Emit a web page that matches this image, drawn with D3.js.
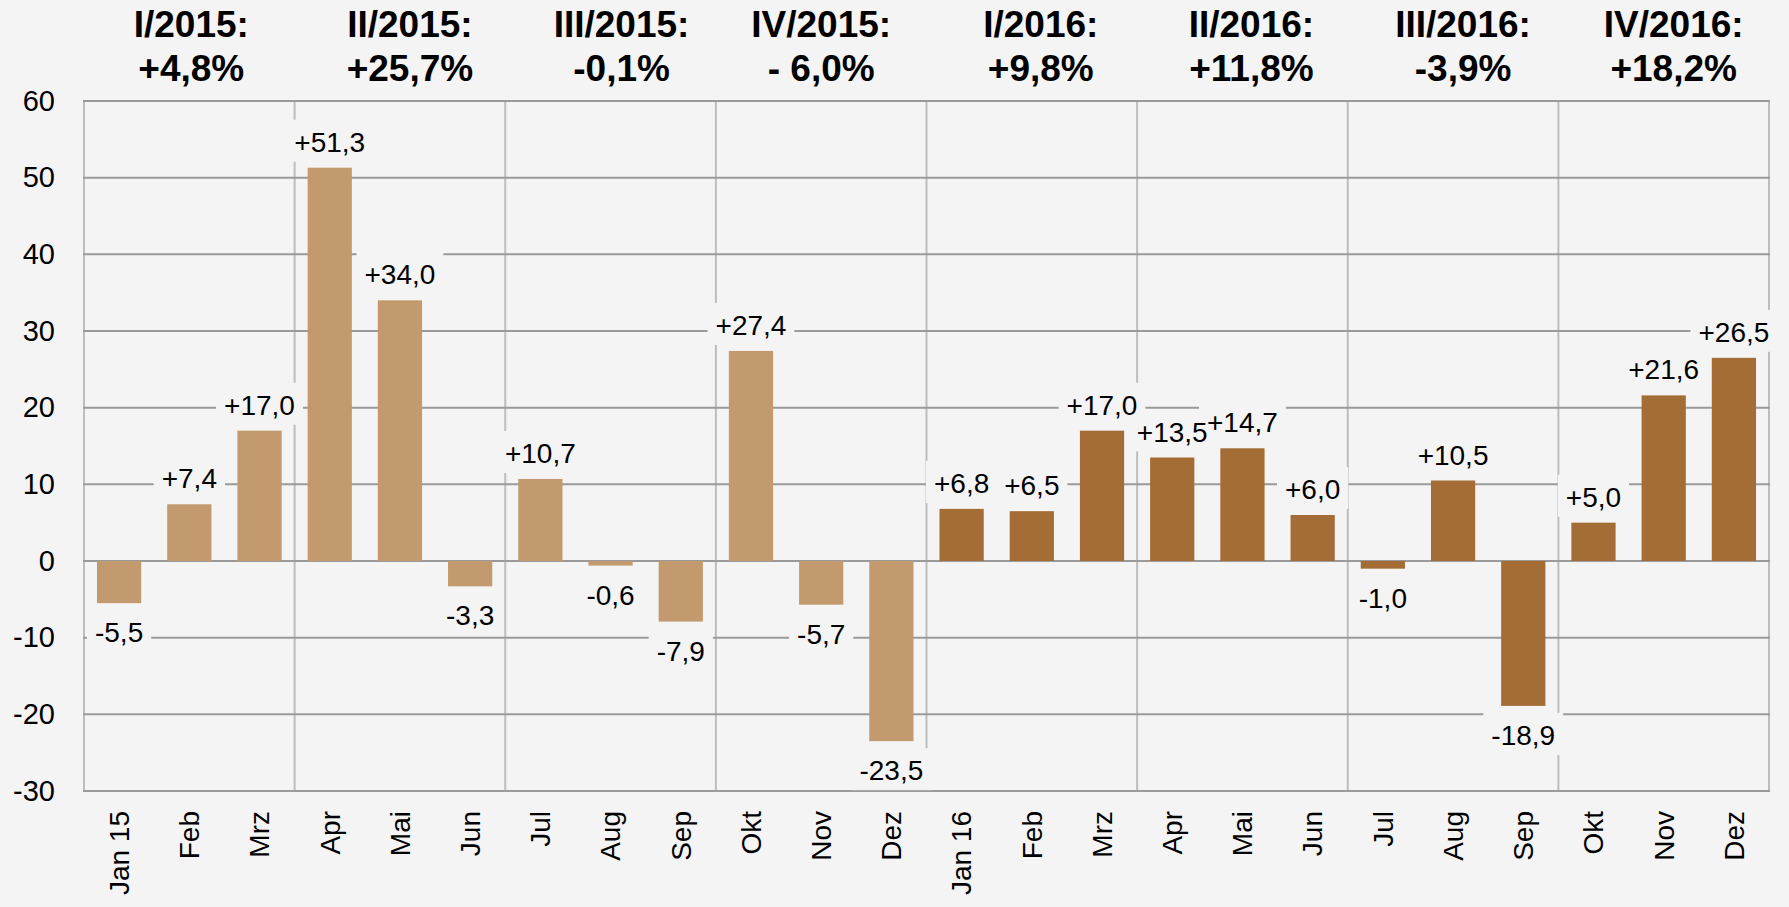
<!DOCTYPE html>
<html>
<head>
<meta charset="utf-8">
<script src="https://cdn.jsdelivr.net/npm/d3@7/dist/d3.min.js"></script>
<style>
  html, body { margin: 0; padding: 0; background: #f4f4f4; }
  svg { display: block; font-family: "Liberation Sans", Arial, sans-serif; }
</style>
</head>
<body>
<svg id="chart" width="1789" height="907"></svg>
<script>
const months = ["Jan 15","Feb","Mrz","Apr","Mai","Jun","Jul","Aug","Sep","Okt","Nov","Dez",
                "Jan 16","Feb","Mrz","Apr","Mai","Jun","Jul","Aug","Sep","Okt","Nov","Dez"];
const values2015 = [-5.5, 7.4, 17.0, 51.3, 34.0, -3.3, 10.7, -0.6, -7.9, 27.4, -5.7, -23.5];
const values2016 = [6.8, 6.5, 17.0, 13.5, 14.7, 6.0, -1.0, 10.5, -18.9, 5.0, 21.6, 26.5];
const quarterTitles = ["I/2015:","II/2015:","III/2015:","IV/2015:","I/2016:","II/2016:","III/2016:","IV/2016:"];
const quarterValues = ["+4,8%","+25,7%","-0,1%","- 6,0%","+9,8%","+11,8%","-3,9%","+18,2%"];
const yTicks = [-30,-20,-10,0,10,20,30,40,50,60];

const colors = { y2015: "#c39a6d", y2016: "#a36d35" };
// small horizontal nudges of the header text blocks (layout only)
const headerShift = [2, 10, 11, 0, 9, 9, 10, 10];

const data = months.map((m, i) => ({
  key: i,
  label: m,
  value: i < 12 ? values2015[i] : values2016[i - 12],
  year: i < 12 ? 2015 : 2016
}));

const W = 1789, H = 907;
const L = 84, R = 1769, T = 101, B = 791;
const svg = d3.select("#chart");
svg.append("rect").attr("width", W).attr("height", H).attr("fill", "#f4f4f4");

const x = d3.scaleBand().domain(data.map(d => d.key)).range([L, R]).paddingInner(0.37).paddingOuter(0.185);
const xq = d3.scaleBand().domain(d3.range(quarterTitles.length)).range([L, R]);
const y = d3.scaleLinear().domain([-30, 60]).range([B, T]);

const fmt = v => (v > 0 ? "+" : "") + v.toFixed(1).replace(".", ",");

// vertical quarter separators and borders
const vlines = d3.range(quarterTitles.length + 1).map(i => i < quarterTitles.length ? xq(i) : R);
svg.append("g").selectAll("line").data(vlines).join("line")
  .attr("x1", d => d).attr("x2", d => d).attr("y1", T).attr("y2", B)
  .attr("stroke", "#bdbdbd").attr("stroke-width", 2);

// horizontal grid lines
svg.append("g").selectAll("line").data(yTicks).join("line")
  .attr("x1", L - 1).attr("x2", R + 1).attr("y1", d => y(d)).attr("y2", d => y(d))
  .attr("stroke", "#9a9a9a").attr("stroke-width", 2);

// y tick labels
const yAxis = d3.axisLeft(y).tickValues(yTicks).tickSize(0).tickPadding(29).tickFormat(d => d);
const ya = svg.append("g").attr("transform", `translate(${L},0)`).call(yAxis);
ya.select(".domain").remove();
ya.selectAll("text").attr("font-size", 29).attr("fill", "#000")
  .attr("font-family", "'Liberation Sans', Arial, sans-serif");

// bars
svg.append("g").selectAll("rect").data(data).join("rect")
  .attr("x", d => x(d.key))
  .attr("width", x.bandwidth())
  .attr("y", d => y(Math.max(0, d.value)))
  .attr("height", d => Math.abs(y(d.value) - y(0)))
  .attr("fill", d => d.year === 2015 ? colors.y2015 : colors.y2016);

// value labels with background (backgrounds first, then texts)
const bgLayer = svg.append("g");
const txtLayer = svg.append("g");
data.forEach(d => {
  const cx = x(d.key) + x.bandwidth() / 2;
  const base = d.value >= 0 ? y(d.value) - 16 : y(d.value) + 39;
  const bg = bgLayer.append("rect").attr("fill", "#f4f4f4");
  const t = txtLayer.append("text").attr("x", cx).attr("y", base)
    .attr("text-anchor", "middle").attr("font-size", 28).attr("fill", "#000")
    .text(fmt(d.value));
  const w = t.node().getComputedTextLength();
  bg.attr("x", cx - w / 2 - 8).attr("width", w + 16)
    .attr("y", base - 32).attr("height", 42);
});

// month labels
svg.append("g").selectAll("text").data(data).join("text")
  .attr("transform", d => `translate(${x(d.key) + x.bandwidth() / 2},${B + 20}) rotate(-90)`)
  .attr("text-anchor", "end").attr("dy", "0.35em")
  .attr("font-size", 28).attr("fill", "#000")
  .text(d => d.label);

// quarter headers
const hq = svg.append("g");
quarterTitles.forEach((q, i) => {
  const cx = xq(i) + xq.bandwidth() / 2 + headerShift[i];
  hq.append("text").attr("x", cx).attr("y", 37).attr("text-anchor", "middle")
    .attr("font-size", 37).attr("font-weight", "bold").attr("fill", "#000").text(q);
  hq.append("text").attr("x", cx).attr("y", 81).attr("text-anchor", "middle")
    .attr("font-size", 37).attr("font-weight", "bold").attr("fill", "#000").text(quarterValues[i]);
});
</script>
</body>
</html>
